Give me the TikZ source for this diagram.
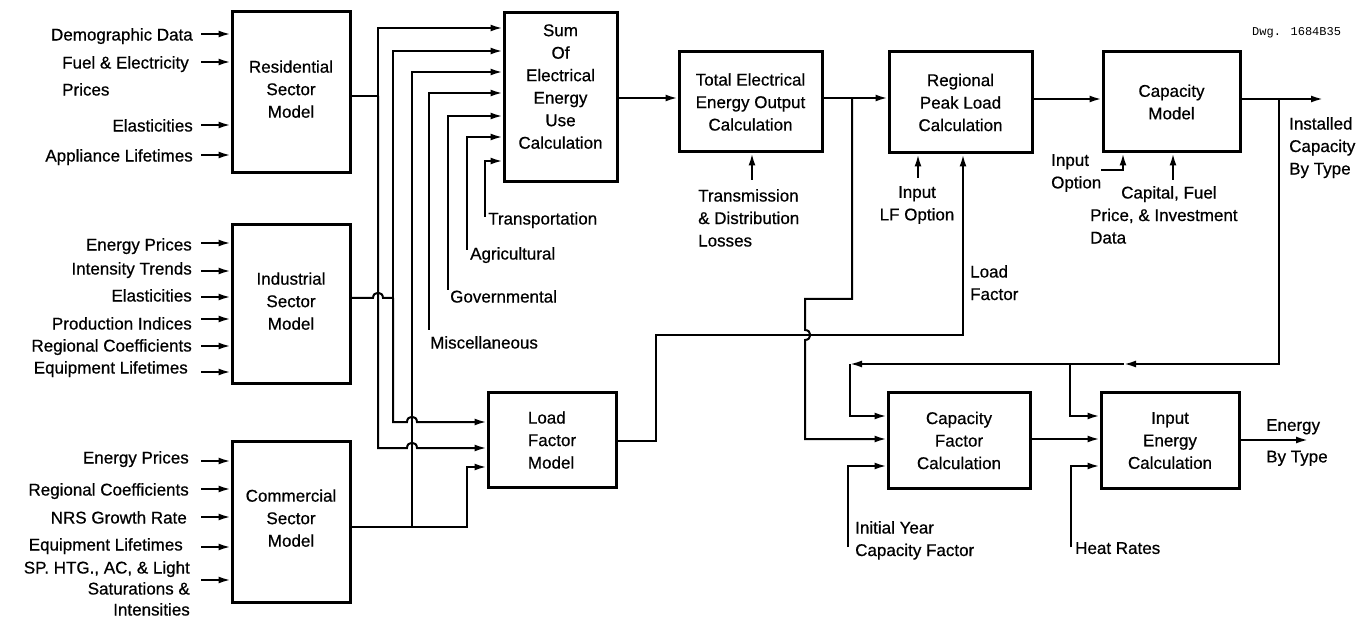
\documentclass[tikz,border=0pt]{standalone}
\usepackage{fontspec}
\setmainfont{Liberation Sans}[FakeBold=0.6]
\newfontfamily\dwgfont{Liberation Mono}
\usetikzlibrary{arrows.meta}
\begin{document}
\begin{tikzpicture}[x=1pt,y=-1pt,
  every node/.style={font=\fontsize{17}{22.5}\selectfont, inner sep=0pt},
  box/.style={draw, line width=3pt, align=center},
  conn/.style={line width=2pt},
  arr/.style={conn, -{Latex[length=12pt,width=7pt]}},
  lblR/.style={anchor=north east, align=right},
  lblL/.style={anchor=north west, align=left},
  lblC/.style={anchor=north, align=center}]
\useasboundingbox (0,0) rectangle (1368,617);

% ---------- boxes ----------
\node[box, minimum width=118pt, minimum height=161pt] (res) at (291,92.5) {Residential\\Sector\\Model\rule[-7pt]{0pt}{0pt}};
\node[box, minimum width=118pt, minimum height=159pt] (ind) at (291,304.5) {Industrial\\Sector\\Model\rule[-7pt]{0pt}{0pt}};
\node[box, minimum width=118pt, minimum height=161pt] (com) at (291,521.5) {Commercial\\Sector\\Model\rule[-7pt]{0pt}{0pt}};
\node[box, minimum width=113pt, minimum height=169pt] (sum) at (560.5,97.5) {Sum\\Of\\Electrical\\Energy\\Use\\Calculation\rule[-22pt]{0pt}{0pt}};
\node[box, align=left, minimum width=128pt, minimum height=94pt] (lf) at (552,440) {Load\\Factor\\Model};
\node[box, minimum width=143pt, minimum height=100pt] (tot) at (750.5,102) {Total Electrical\\Energy Output\\Calculation};
\node[box, minimum width=143pt, minimum height=101pt] (reg) at (960.5,102.5) {Regional\\Peak Load\\Calculation};
\node[box, minimum width=137pt, minimum height=100pt] (cap) at (1171.5,102) {Capacity\\Model};
\node[box, minimum width=142pt, minimum height=95pt] (cf) at (959,440.5) {Capacity\\Factor\\Calculation};
\node[box, minimum width=138pt, minimum height=95pt] (ie) at (1170,440.5) {Input\\Energy\\Calculation};

% ---------- residential inputs ----------
\node[lblR] (lr1) at (193,28) {Demographic Data};
\node[lblL] (lr2) at (62,56) {Fuel \& Electricity\\[4.5pt]Prices};
\node[lblR] (lr3) at (193,119) {Elasticities};
\node[lblR] (lr4) at (193,149) {Appliance Lifetimes};
\coordinate (r1) at (201,34);
\coordinate (r2) at (201,62);
\coordinate (r3) at (201,125);
\coordinate (r4) at (201,155);
\foreach \p in {r1,r2,r3,r4} \draw[arr] (\p) -- (res.west |- \p);

% ---------- industrial inputs ----------
\node[lblR] (li1) at (192,238) {Energy Prices};
\node[lblR] (li2) at (192,262) {Intensity Trends};
\node[lblR] (li3) at (192,289) {Elasticities};
\node[lblR] (li4) at (192,317) {Production Indices};
\node[lblR] (li5) at (192,339) {Regional Coefficients};
\node[lblR] (li6) at (188,361) {Equipment Lifetimes};
\coordinate (i1) at (201,243);
\coordinate (i2) at (201,271);
\coordinate (i3) at (201,297);
\coordinate (i4) at (201,319);
\coordinate (i5) at (201,346);
\coordinate (i6) at (201,372);
\foreach \p in {i1,i2,i3,i4,i5,i6} \draw[arr] (\p) -- (ind.west |- \p);

% ---------- commercial inputs ----------
\node[lblR] (lc1) at (189,451) {Energy Prices};
\node[lblR] (lc2) at (189,483) {Regional Coefficients};
\node[lblR] (lc3) at (187,511) {NRS Growth Rate};
\node[lblR] (lc4) at (183,538) {Equipment Lifetimes};
\node[lblR, font=\fontsize{17}{21}\selectfont] (lc5) at (190,561) {SP. HTG., AC, \& Light\\Saturations \&\\Intensities};
\coordinate (c1) at (201,461);
\coordinate (c2) at (201,489);
\coordinate (c3) at (201,517);
\coordinate (c4) at (201,547);
\coordinate (c5) at (201,580);
\foreach \p in {c1,c2,c3,c4,c5} \draw[arr] (\p) -- (com.west |- \p);

% ---------- sector outputs ----------
\coordinate (rb) at (378,96);
\coordinate (rbt) at (378,28);
\coordinate (rbb) at (378,448);
\draw[conn] (res.east |- rb) -- (rb);
\draw[arr] (rb) -- (rbt) -- (sum.west |- rbt);
\draw[arr] (rb) -- (rbb) -- (407,448) .. controls (407,441) and (417,441) .. (417,448) -- (lf.west |- rbb);

\coordinate (ib) at (393,298);
\coordinate (ibt) at (393,51);
\coordinate (ibb) at (393,422);
\draw[conn] (ind.east |- ib) -- (373,298) .. controls (373,291) and (383,291) .. (383,298) -- (ib);
\draw[arr] (ib) -- (ibt) -- (sum.west |- ibt);
\draw[arr] (ib) -- (ibb) -- (407,422) .. controls (407,415) and (417,415) .. (417,422) -- (lf.west |- ibb);

\coordinate (cb) at (412,527);
\coordinate (cbt) at (412,72);
\coordinate (cbr) at (467,527);
\coordinate (cbu) at (467,467);
\draw[conn] (com.east |- cb) -- (cb);
\draw[arr] (cb) -- (cbt) -- (sum.west |- cbt);
\draw[arr] (cb) -- (cbr) -- (cbu) -- (lf.west |- cbu);

% ---------- other sum inputs ----------
\coordinate (mi) at (429,330);
\coordinate (mic) at (429,93);
\coordinate (go) at (448,290);
\coordinate (goc) at (448,116);
\coordinate (ag) at (467,250);
\coordinate (agc) at (467,137);
\coordinate (tr) at (485,217);
\coordinate (trc) at (485,161);
\draw[arr] (mi) -- (mic) -- (sum.west |- mic);
\draw[arr] (go) -- (goc) -- (sum.west |- goc);
\draw[arr] (ag) -- (agc) -- (sum.west |- agc);
\draw[arr] (tr) -- (trc) -- (sum.west |- trc);
\node[lblL] (ltr) at (488,212) {Transportation};
\node[lblL] (lag) at (470,247) {Agricultural};
\node[lblL] (lgo) at (450,290) {Governmental};
\node[lblL] (lmi) at (430,336) {Miscellaneous};

% ---------- main chain ----------
\coordinate (tj) at (852,98);
\coordinate (tj2) at (852,299);
\coordinate (tj3) at (805,299);
\coordinate (tj4) at (805,439);
\draw[arr] (sum.east |- tj) -- (tot.west |- tj);
\draw[arr] (tot.east |- tj) -- (reg.west |- tj);
\draw[arr] (tj) -- (tj2) -- (tj3) -- (805,330) .. controls (812,330) and (812,340) .. (805,340) -- (tj4) -- (cf.west |- tj4);

\coordinate (lfo) at (656,441);
\coordinate (lfu) at (656,335);
\coordinate (lfr) at (963,335);
\draw[arr] (lf.east |- lfo) -- (lfo) -- (lfu) -- (lfr) -- (reg.south -| lfr);
\node[lblL] (llf) at (970,265) {Load\\Factor};

\coordinate (tl) at (752,180);
\draw[arr] (tl) -- (tot.south -| tl);
\node[lblL] (ltl) at (698,189) {Transmission\\\& Distribution\\Losses};

\coordinate (ilf) at (918,178);
\draw[arr] (ilf) -- (reg.south -| ilf);
\node[lblC] (lilf) at (917,186) {Input\\LF Option};

\coordinate (co) at (1279,99);
\draw[arr] (reg.east |- co) -- (cap.west |- co);

\coordinate (io1) at (1101,170);
\coordinate (io2) at (1123,170);
\draw[arr] (io1) -- (io2) -- (cap.south -| io2);
\node[lblL] (lio) at (1051,154) {Input\\Option};

\coordinate (cpt) at (1173,180);
\draw[arr] (cpt) -- (cap.south -| cpt);
\node[lblL] (lcpt) at (1090,186) {\hspace*{31pt}Capital, Fuel\\Price, \& Investment\\Data};

\coordinate (capout) at (1323,99);
\draw[arr] (cap.east |- co) -- (capout);
\node[lblL] (linst) at (1289,117) {Installed\\Capacity\\By Type};
\node[anchor=west, font=\dwgfont\fontsize{12}{13}\selectfont] (dwg) at (1252,33) {Dwg. 1684B35};

% ---------- feedback ----------
\coordinate (cjb) at (1279,364);
\coordinate (fa) at (1124,364);
\coordinate (fj) at (1070,364);
\coordinate (fc) at (850,364);
\coordinate (fcb) at (850,416);
\draw[arr] (co) -- (cjb) -- (fa);
\draw[conn] (fa) -- (fj);
\draw[arr] (fj) -- (fc);
\draw[arr] (fc) -- (fcb) -- (cf.west |- fcb);
\draw[arr] (fj) |- (ie.west |- fcb);

\draw[arr] (cf.east |- tj4) -- (ie.west |- tj4);
\coordinate (eout) at (1308,440);
\draw[arr] (ie.east |- eout) -- (eout);
\node[lblL] (leo) at (1266,419) {Energy\\[9pt]By Type};

\coordinate (iy) at (848,547);
\coordinate (iyc) at (848,466);
\draw[arr] (iy) -- (iyc) -- (cf.west |- iyc);
\node[lblL] (liy) at (855,521) {Initial Year\\Capacity Factor};

\coordinate (hr) at (1071,547);
\draw[arr] (hr) |- (ie.west |- iyc);
\node[lblL] (lhr) at (1075,542) {Heat Rates};
\end{tikzpicture}
\end{document}
